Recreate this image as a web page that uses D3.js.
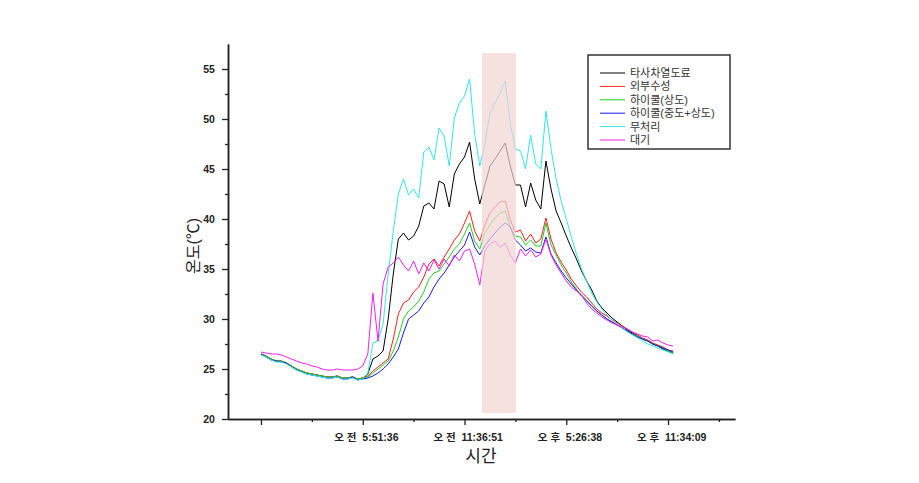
<!DOCTYPE html>
<html>
<head>
<meta charset="utf-8">
<script src="https://cdn.jsdelivr.net/npm/d3@7"></script>
<style>
  body { margin: 0; background: #fff; }
  text { font-family: "Liberation Sans", "Noto Sans CJK KR", sans-serif; }
</style>
</head>
<body>
<div id="root"></div>
<script>
// one reading every 50 samples
const sampleStep = 50;

const xTickLabels = ["", "오 전  5:51:36", "오 전  11:36:51", "오 후  5:26:38", "오 후  11:34:09"];
const xTicks = [0, 1000, 2000, 3000, 4000];
const xMinorTicks = [500, 1500, 2500, 3500, 4500];
const yTicks = [20, 25, 30, 35, 40, 45, 50, 55];
const yMinorTicks = [22.5, 27.5, 32.5, 37.5, 42.5, 47.5, 52.5];
const highlight = [2170, 2505];

const seriesNames = ["타사차열도료", "외부수성", "하이쿨(상도)", "하이쿨(중도+상도)", "무처리", "대기"];
const seriesColors = ["#000000", "#ff2020", "#22d022", "#1a1ae6", "#33e6e6", "#f020f0"];

const black = [26.5, 26.3, 26.0, 25.8, 25.8, 25.6, 25.3, 25.0, 24.8, 24.6, 24.5, 24.4, 24.3, 24.2, 24.2, 24.3, 24.1, 24.1, 24.2, 24.0,
  24.1, 24.5, 26.0, 26.3, 26.8, 30.0, 34.5, 38.0, 38.6, 37.9, 38.3, 39.3, 41.3, 41.6, 41.0, 43.8, 43.5, 41.2, 44.5, 45.5,
  46.2, 47.7, 44.0, 41.5, 43.4, 45.3, 46.0, 46.8, 47.6, 45.3, 43.4, 43.4, 41.2, 43.6, 41.9, 41.0, 45.8, 43.0, 40.8, 39.6,
  38.3, 37.1, 36.0, 34.8, 33.8, 32.9, 31.8, 31.1, 30.6, 30.1, 29.7, 29.3, 28.9, 28.6, 28.3, 28.0, 27.8, 27.5, 27.3, 27.0,
  26.8, 26.6];
const red = [26.5, 26.3, 26.0, 25.8, 25.8, 25.6, 25.3, 25.0, 24.8, 24.6, 24.5, 24.4, 24.3, 24.2, 24.2, 24.3, 24.1, 24.1, 24.2, 24.0,
  24.1, 24.3, 24.8, 25.2, 25.6, 26.0, 28.0, 30.5, 31.6, 31.9, 32.7, 33.2, 34.2, 35.5, 36.0, 35.3, 36.2, 37.0, 37.9, 38.5,
  39.6, 40.8, 38.8, 37.8, 39.4, 40.6, 41.2, 41.7, 41.8, 39.9, 38.7, 38.9, 37.8, 38.5, 37.6, 38.0, 40.1, 38.0, 36.6, 35.7,
  34.9, 34.0, 33.3, 32.7, 32.2, 31.6, 31.0, 30.6, 30.3, 29.9, 29.6, 29.3, 29.0, 28.7, 28.4, 28.1, 27.9, 27.6, 27.4, 27.2,
  26.9, 26.8];
const green = [26.5, 26.3, 26.0, 25.8, 25.8, 25.6, 25.3, 25.0, 24.8, 24.6, 24.5, 24.4, 24.3, 24.2, 24.2, 24.3, 24.1, 24.1, 24.2, 24.0,
  24.1, 24.2, 24.6, 25.0, 25.4, 25.8, 26.8, 28.2, 30.0, 30.8, 31.2, 31.8, 32.7, 34.0, 34.6, 34.8, 35.5, 36.2, 37.0, 37.5,
  38.5, 39.6, 37.8, 37.0, 38.6, 39.4, 40.1, 40.6, 40.8, 39.2, 38.3, 38.2, 37.4, 37.9, 37.3, 37.3, 39.6, 37.4, 36.4, 35.4,
  34.6, 33.7, 33.0, 32.4, 31.9, 31.3, 30.8, 30.4, 30.0, 29.7, 29.4, 29.1, 28.8, 28.5, 28.3, 28.0, 27.8, 27.5, 27.3, 27.1,
  26.8, 26.6];
const blue = [26.5, 26.2, 25.9, 25.8, 25.7, 25.6, 25.2, 24.9, 24.7, 24.5, 24.4, 24.3, 24.2, 24.1, 24.1, 24.2, 24.0, 24.0, 24.2, 23.9,
  24.0, 24.1, 24.3, 24.6, 25.0, 25.5, 26.2, 27.0, 28.6, 30.0, 30.4, 30.8, 31.6, 32.2, 33.2, 34.0, 34.6, 35.4, 36.2, 36.8,
  37.4, 38.7, 37.2, 36.4, 37.3, 38.0, 38.6, 39.2, 39.6, 39.2, 37.9, 37.4, 36.8, 37.1, 36.7, 36.6, 38.2, 36.5, 35.6, 34.8,
  34.1, 33.5, 32.9, 32.3, 31.8, 31.3, 30.8, 30.4, 30.0, 29.7, 29.4, 29.1, 28.8, 28.5, 28.2, 28.0, 27.8, 27.5, 27.3, 27.1,
  26.9, 26.7];
const cyan = [26.4, 26.2, 25.9, 25.7, 25.7, 25.5, 25.2, 24.9, 24.7, 24.5, 24.4, 24.3, 24.2, 24.1, 24.1, 24.2, 24.0, 24.0, 24.1, 23.9,
  24.0, 24.6, 27.6, 27.8, 29.5, 34.5, 38.8, 42.5, 44.0, 42.4, 43.0, 42.1, 46.7, 47.2, 45.9, 49.1, 48.3, 45.3, 50.1, 51.6,
  52.3, 54.0, 48.5, 45.3, 47.5, 50.6, 51.6, 52.6, 53.8, 49.5, 47.0, 46.8, 45.0, 48.4, 45.5, 45.0, 50.8, 47.0, 44.0, 41.8,
  40.0, 38.2, 36.5, 35.0, 33.8, 32.6, 31.7, 31.0, 30.4, 29.9, 29.5, 29.1, 28.7, 28.4, 28.1, 27.8, 27.5, 27.3, 27.1, 26.9,
  26.7, 26.5];
const magenta = [26.7, 26.6, 26.5, 26.5, 26.4, 26.2, 26.0, 25.8, 25.6, 25.5, 25.3, 25.2, 25.0, 24.9, 24.9, 25.0, 24.9, 24.9, 24.9, 25.0,
  25.3, 26.5, 32.6, 27.8, 33.5, 35.2, 35.6, 36.2, 35.4, 34.8, 35.8, 34.5, 35.6, 34.8, 35.9, 35.0, 36.0, 35.3, 36.4, 35.8,
  36.8, 37.0, 35.5, 33.4, 36.8, 37.5, 37.8, 37.2, 37.6, 36.4, 35.6, 37.0, 36.3, 36.9, 36.2, 36.5, 38.0, 36.4, 35.4, 34.6,
  33.8, 33.2, 32.8, 32.4, 31.6, 31.0, 30.6, 30.2, 29.9, 29.6, 29.4, 29.2, 29.0, 28.7, 28.5, 28.3, 28.2, 27.8, 27.9, 27.6,
  27.4, 27.3];

const allSeries = [black, red, green, blue, cyan, magenta];

const width = 919;
const height = 483;

const xScale = d3.scaleLinear().domain([-324, 4658]).range([228, 735]);
const yScale = d3.scaleLinear().domain([20, 57.5]).range([419, 44]);

const svg = d3.select("#root")
  .append("svg")
  .attr("width", width)
  .attr("height", height)
  .style("background", "#fff");

// lines
const line = d3.line()
  .x((d, i) => xScale(i * sampleStep))
  .y(d => yScale(d));

allSeries.forEach((s, k) => {
  svg.append("path")
    .datum(s)
    .attr("fill", "none")
    .attr("stroke", seriesColors[k])
    .attr("stroke-width", 1)
    .attr("d", line);
});

// shaded time band, drawn over the lines
svg.append("rect")
  .attr("x", xScale(highlight[0]))
  .attr("y", yScale(56.6))
  .attr("width", xScale(highlight[1]) - xScale(highlight[0]))
  .attr("height", yScale(20.6) - yScale(56.6))
  .attr("fill", "#f1d4d3")
  .attr("opacity", 0.7);

// axes
const xAxis = d3.axisBottom(xScale)
  .tickValues(xTicks)
  .tickFormat((d, i) => xTickLabels[i])
  .tickSize(6)
  .tickSizeOuter(0);
const xMinor = d3.axisBottom(xScale).tickValues(xMinorTicks).tickFormat("").tickSize(3).tickSizeOuter(0);

const yAxis = d3.axisLeft(yScale)
  .tickValues(yTicks)
  .tickSize(6)
  .tickSizeOuter(0);
const yMinor = d3.axisLeft(yScale).tickValues(yMinorTicks).tickFormat("").tickSize(3).tickSizeOuter(0);

const gx = svg.append("g").attr("transform", "translate(0,419)").call(xAxis);
svg.append("g").attr("transform", "translate(0,419)").call(xMinor);
const gy = svg.append("g").attr("transform", "translate(228,0)").call(yAxis);
svg.append("g").attr("transform", "translate(228,0)").call(yMinor);

svg.selectAll(".domain").attr("stroke", "#222").attr("stroke-width", 1.5);
svg.selectAll(".tick line").attr("stroke", "#222").attr("stroke-width", 1.3);

gx.selectAll("text")
  .attr("dy", "1.25em")
  .attr("dx", "0.3em")
  .style("white-space", "pre")
  .style("font-size", "10.5px")
  .style("font-weight", "bold")
  .attr("fill", "#222");
gy.selectAll("text")
  .attr("dx", "-0.4em")
  .style("font-size", "10.5px")
  .style("font-weight", "bold")
  .attr("fill", "#222");

// axis titles
svg.append("text")
  .attr("x", 481)
  .attr("y", 462)
  .attr("text-anchor", "middle")
  .style("font-size", "17px")
  .attr("fill", "#222")
  .text("시간");

svg.append("text")
  .attr("transform", "translate(199,246) rotate(-90)")
  .attr("text-anchor", "middle")
  .style("font-size", "16px")
  .attr("fill", "#222")
  .text("온도(℃)");

// legend
const legend = svg.append("g");
legend.append("rect")
  .attr("x", 588)
  .attr("y", 55)
  .attr("width", 142)
  .attr("height", 94)
  .attr("fill", "#fff")
  .attr("stroke", "#333")
  .attr("stroke-width", 1.5);

seriesNames.forEach((name, k) => {
  const y = 73 + k * 13.4;
  legend.append("line")
    .attr("x1", 600).attr("x2", 625)
    .attr("y1", y).attr("y2", y)
    .attr("stroke", seriesColors[k])
    .attr("stroke-width", 1);
  legend.append("text")
    .attr("x", 630)
    .attr("y", y + 4)
    .style("font-size", "11px")
    .attr("fill", "#333")
    .text(name);
});
</script>
</body>
</html>
